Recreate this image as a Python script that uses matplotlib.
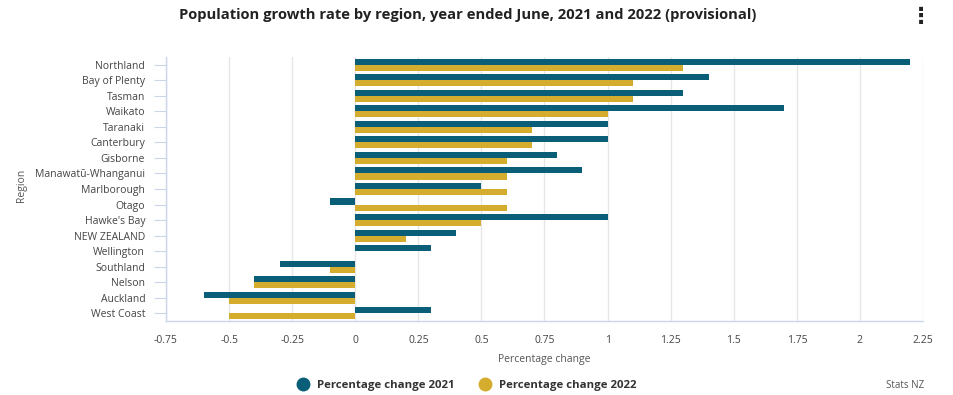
import numpy as np
import matplotlib.pyplot as plt
from matplotlib.lines import Line2D

plt.rcParams['font.family'] = ['Open Sans', 'DejaVu Sans']

regions = ["Northland", "Bay of Plenty", "Tasman", "Waikato", "Taranaki",
           "Canterbury", "Gisborne", "Manawatū-Whanganui", "Marlborough",
           "Otago", "Hawke's Bay", "NEW ZEALAND", "Wellington", "Southland",
           "Nelson", "Auckland", "West Coast"]
change_2021 = [2.2, 1.4, 1.3, 1.7, 1.0, 1.0, 0.8, 0.9, 0.5, -0.1, 1.0, 0.4,
               0.3, -0.3, -0.4, -0.6, 0.3]
change_2022 = [1.3, 1.1, 1.1, 1.0, 0.7, 0.7, 0.6, 0.6, 0.6, 0.6, 0.5, 0.2,
               0.0, -0.1, -0.4, -0.5, -0.5]
x_ticks = [-0.75, -0.5, -0.25, 0, 0.25, 0.5, 0.75, 1, 1.25, 1.5, 1.75, 2, 2.25]
x_labels = ["-0.75", "-0.5", "-0.25", "0", "0.25", "0.5", "0.75", "1",
            "1.25", "1.5", "1.75", "2", "2.25"]
series_names = ['Percentage change 2021', 'Percentage change 2022']

c21 = '#0a5e78'
c22 = '#d4ac2e'
axis_col = '#ccd6eb'
text_col = '#555555'

fig = plt.figure(figsize=(9.54, 3.95), dpi=100)
ax = fig.add_axes([0.174, 0.187, 0.7935, 0.669])

y = np.arange(len(regions))
h = 0.39
ax.barh(y - h / 2, change_2021, height=h, color=c21, zorder=3)
ax.barh(y + h / 2, change_2022, height=h, color=c22, zorder=3)

ax.set_xlim(-0.75, 2.25)
ax.set_ylim(len(regions) - 0.5, -0.5)
ax.set_xticks(x_ticks)
ax.set_xticklabels(x_labels)
ax.set_yticks(y)
ax.set_yticklabels(regions)
ax.grid(axis='x', color='#e6e6e6', linewidth=1, zorder=0)

for side in ['top', 'right']:
    ax.spines[side].set_visible(False)
for side in ['left', 'bottom']:
    ax.spines[side].set_color(axis_col)
    ax.spines[side].set_linewidth(1)

ax.tick_params(axis='y', length=9, color=axis_col, labelsize=7.5,
               labelcolor='#444444', pad=6)
ax.tick_params(axis='x', length=0, labelsize=7.5, labelcolor='#444444', pad=10)

ax.set_xlabel('Percentage change', fontsize=7.5, color=text_col, labelpad=6)
fig.text(0.023, 0.53, 'Region', rotation=90, fontsize=7.5, color=text_col,
         ha='center', va='center')

fig.text(0.49, 0.962, 'Population growth rate by region, year ended June, '
         '2021 and 2022 (provisional)', fontsize=10.6, fontweight='bold',
         color='#222222', ha='center', va='center')
fig.text(0.965, 0.955, '⋮', fontsize=16, fontweight='bold', color='#222222',
         ha='center', va='center')

handles = [Line2D([], [], marker='o', linestyle='none', markersize=9,
                  markerfacecolor=c, markeredgecolor=c) for c in (c21, c22)]
leg = fig.legend(handles, series_names, loc='center',
                 bbox_to_anchor=(0.49, 0.025), ncol=2, frameon=False,
                 handlelength=0.8, columnspacing=2.2, handletextpad=0.9,
                 prop={'weight': 'bold', 'size': 8.2})
for txt in leg.get_texts():
    txt.set_color('#333333')

fig.text(0.969, 0.023, 'Stats NZ', fontsize=7, color='#555555',
         ha='right', va='center')

fig.savefig('out.png', dpi=100)
